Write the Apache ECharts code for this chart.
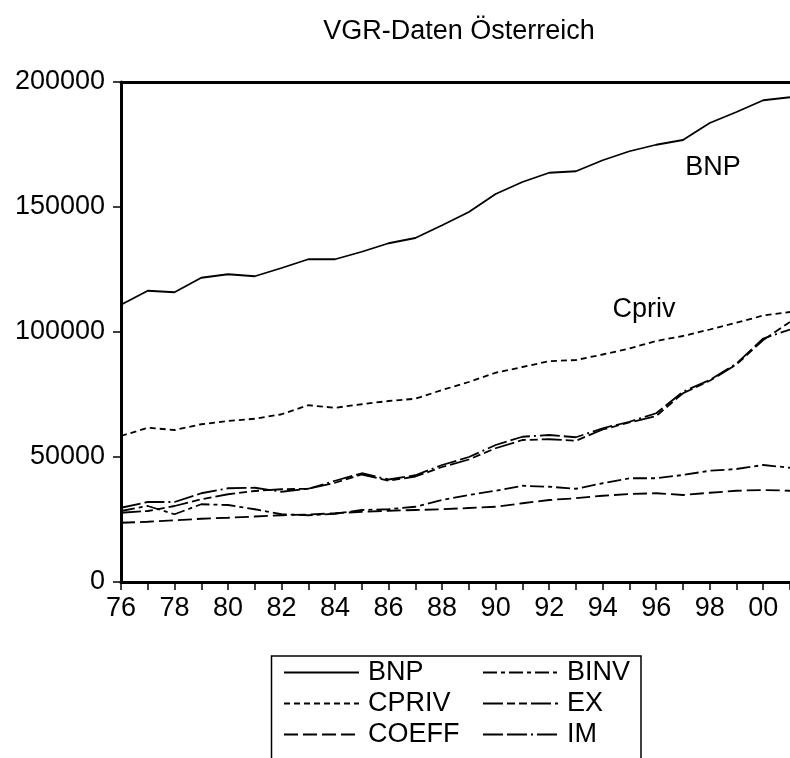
<!DOCTYPE html>
<html>
<head>
<meta charset="utf-8">
<script src="https://cdn.jsdelivr.net/npm/echarts@6/dist/echarts.min.js"></script>
<style>
html,body{margin:0;padding:0;background:#fff;}
#chart{width:790px;height:758px;}
</style>
</head>
<body>
<div id="chart"></div>
<script>
const years = ['76','77','78','79','80','81','82','83','84','85','86','87','88','89','90','91','92','93','94','95','96','97','98','99','00','01'];
const BNP = [110900,116500,115900,121700,123100,122300,125600,129100,129100,132100,135500,137600,142700,148000,155200,160000,163700,164300,168700,172300,174900,176800,183600,188000,192700,193900];
const CPRIV = [58400,61700,60800,63100,64400,65300,67100,70700,69700,71100,72400,73300,76800,80000,83700,86000,88300,88800,91000,93400,96400,98400,101000,103700,106600,108000];
const COEFF = [23700,24100,24700,25300,25700,26200,26700,27000,27500,28100,28500,28800,29100,29600,30100,31500,32800,33500,34500,35200,35500,34800,35700,36500,36800,36500];
const BINV = [28400,30400,27100,31100,30800,29100,27100,26700,27300,28800,29100,30100,32800,34800,36500,38500,38100,37300,39500,41500,41500,42800,44500,45200,46800,45700];
const EX = [27700,28400,30400,33100,35100,36400,37100,37300,39700,43000,40500,42200,46000,49000,53500,56800,57100,56500,61000,63800,66400,75500,80500,87000,96800,104000];
const IM = [29700,32000,32000,35500,37500,37700,36100,37300,40500,43500,41000,42700,46800,50000,54800,58100,58800,57900,61500,64100,67500,76100,80800,87400,97400,101000];
const yTicks = [0, 50000, 100000, 150000, 200000];
const legendLeft = ['BNP', 'CPRIV', 'COEFF'];
const legendRight = ['BINV', 'EX', 'IM'];

const FONT = 'Liberation Sans, Arial, sans-serif';
const chart = echarts.init(document.getElementById('chart'), null, {renderer: 'canvas'});

function mk(name, data, type, width) {
  return {
    name: name, type: 'line', data: data, symbol: 'none', showSymbol: false,
    animation: false, silent: true, color: '#000',
    itemStyle: {color: '#000'},
    lineStyle: {color: '#000', width: width, type: type}
  };
}

function legendCfg(names, left) {
  return {
    data: names, orient: 'vertical', left: left, top: 659, padding: 0,
    itemWidth: 75, itemHeight: 27, itemGap: 4,
    itemStyle: {opacity: 0},
    textStyle: {fontFamily: FONT, fontSize: 27, lineHeight: 27, color: '#000', padding: [0, 0, 0, 4]},
    selectedMode: false
  };
}

const option = {
  animation: false,
  backgroundColor: '#fff',
  title: {
    text: 'VGR-Daten Österreich',
    left: 454, top: 13, textAlign: 'center',
    textStyle: {fontFamily: FONT, fontSize: 27, fontWeight: 'normal', color: '#000'}
  },
  grid: {left: 121, top: 82, right: 0, bottom: 176, containLabel: false},
  xAxis: [{
    type: 'category', data: years, boundaryGap: false, position: 'bottom',
    axisLine: {show: true, lineStyle: {color: '#000', width: 3}},
    axisTick: {show: true, interval: 0, length: 8, lineStyle: {color: '#000', width: 1.5}},
    axisLabel: {interval: 1, margin: 13, fontFamily: FONT, fontSize: 27, color: '#000'},
    splitLine: {show: false}
  }, {
    type: 'category', data: years, boundaryGap: false, position: 'top',
    axisLine: {show: true, lineStyle: {color: '#000', width: 3}},
    axisTick: {show: false}, axisLabel: {show: false}, splitLine: {show: false}
  }],
  yAxis: {
    type: 'value', min: yTicks[0], max: yTicks[yTicks.length - 1], interval: 50000,
    axisLine: {show: true, lineStyle: {color: '#000', width: 3}},
    axisTick: {show: true, length: 8, lineStyle: {color: '#000', width: 1.5}},
    axisLabel: {margin: 16, fontFamily: FONT, fontSize: 27, color: '#000', formatter: v => String(v)},
    splitLine: {show: false}
  },
  legend: [legendCfg(legendLeft, 283), legendCfg(legendRight, 482)],
  graphic: [
    {type: 'rect', shape: {x: 271.5, y: 656, width: 369.5, height: 120}, style: {fill: 'none', stroke: '#000', lineWidth: 1.5}, silent: true},
    {type: 'text', x: 713, y: 168, style: {text: 'BNP', fontFamily: FONT, fontSize: 27, fill: '#000', align: 'center', verticalAlign: 'middle'}},
    {type: 'text', x: 644, y: 310, style: {text: 'Cpriv', fontFamily: FONT, fontSize: 27, fill: '#000', align: 'center', verticalAlign: 'middle'}}
  ],
  series: [
    mk('BNP', BNP, 'solid', 1.8),
    mk('CPRIV', CPRIV, [6, 4], 1.8),
    mk('COEFF', COEFF, [14, 5], 1.8),
    mk('BINV', BINV, [14, 4, 4, 4], 1.8),
    mk('EX', EX, [20, 4, 8, 4, 8, 4], 1.8),
    mk('IM', IM, [20, 4, 20, 4, 2, 4], 1.8)
  ]
};
chart.setOption(option);
</script>
</body>
</html>
